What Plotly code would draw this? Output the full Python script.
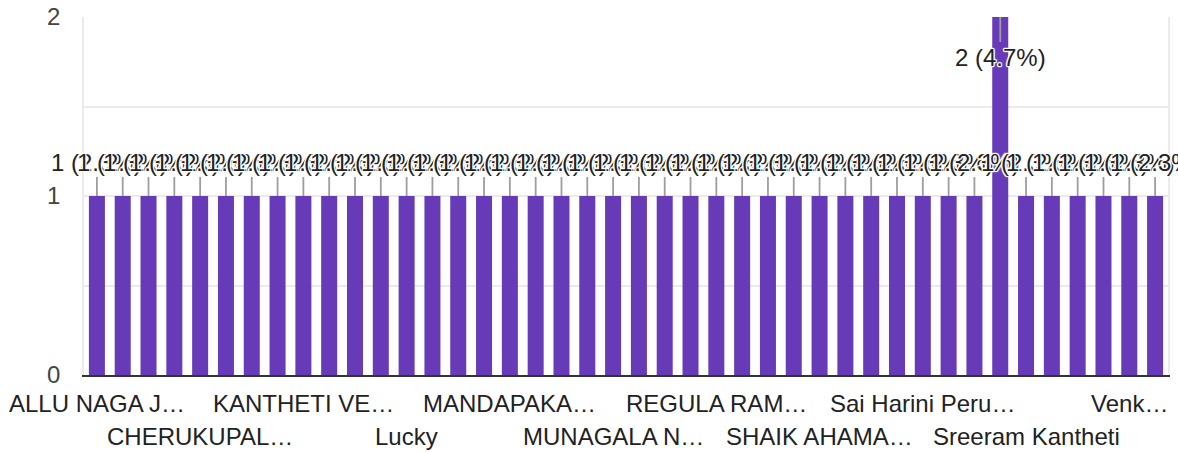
import plotly.graph_objects as go

# ---- data ----
names = [
    "ALLU NAGA J…", "Name 02", "Name 03", "Name 04",
    "CHERUKUPAL…", "Name 06", "Name 07", "Name 08",
    "KANTHETI VE…", "Name 10", "Name 11", "Name 12",
    "Lucky", "Name 14", "Name 15", "Name 16",
    "MANDAPAKA…", "Name 18", "Name 19", "Name 20",
    "MUNAGALA N…", "Name 22", "Name 23", "Name 24",
    "REGULA RAM…", "Name 26", "Name 27", "Name 28",
    "SHAIK AHAMA…", "Name 30", "Name 31", "Name 32",
    "Sai Harini Peru…", "Name 34", "Name 35", "Name 36",
    "Sreeram Kantheti", "Name 38", "Name 39", "Name 40",
    "Venk…", "Name 42",
]
counts = [1] * 35 + [2] + [1] * 6
shown_labels = ["ALLU NAGA J…", "CHERUKUPAL…", "KANTHETI VE…", "Lucky",
                "MANDAPAKA…", "MUNAGALA N…", "REGULA RAM…", "SHAIK AHAMA…",
                "Sai Harini Peru…", "Sreeram Kantheti", "Venk…"]
y_tick_vals = [0, 0.5, 1, 1.5, 2]
y_tick_text = ["0", "", "1", "", "2"]

total = sum(counts)
FONT = "Liberation Sans, Arial, sans-serif"
FS = 24
PURPLE = "#673ab7"
halo = ("white 1px 1px 1px, white -1px -1px 1px, white 1px -1px 1px, "
        "white -1px 1px 1px, white 0px 1px 1px, white 0px -1px 1px, "
        "white 1px 0px 1px, white -1px 0px 1px")

fig = go.Figure(go.Bar(
    x=names, y=counts, marker=dict(color=PURPLE, line=dict(width=0)),
    hoverinfo="skip",
))

annotations = []
for name, c in zip(names, counts):
    label = f"{c} ({c / total * 100:.1f}%)"
    ay = 40 if c >= 2 else -34
    annotations.append(dict(
        x=name, y=c, xref="x", yref="y", text=label,
        showarrow=True, arrowhead=0, arrowwidth=1.8, arrowcolor="#9e9e9e",
        ax=0, ay=ay, standoff=0,
        font=dict(family=FONT, size=FS, color="#222222", shadow=halo),
    ))

for k, lab in enumerate(shown_labels):
    annotations.append(dict(
        x=lab, y=0, xref="x", yref="paper", text=lab, showarrow=False,
        xanchor="center", yanchor="middle",
        yshift=-28 if k % 2 == 0 else -61,
        font=dict(family=FONT, size=FS, color="#222222"),
    ))

fig.update_layout(
    width=1178, height=452,
    margin=dict(l=84, r=10, t=17, b=77, autoexpand=False),
    paper_bgcolor="white", plot_bgcolor="white",
    bargap=0.38, showlegend=False,
    annotations=annotations,
    xaxis=dict(
        type="category", range=[-0.5, len(names) - 0.5], autorange=False,
        showticklabels=False, ticks="", automargin=False,
        showgrid=False, showline=True, linecolor="#333333", linewidth=2,
        zeroline=False,
    ),
    yaxis=dict(
        range=[0, 2], autorange=False, tickvals=y_tick_vals, ticktext=y_tick_text,
        showgrid=True, gridcolor="#ebebeb", gridwidth=1.5, automargin=False,
        showline=True, mirror=True, linecolor="#ebebeb", linewidth=1.5,
        zeroline=False, ticks="", ticklabelstandoff=17,
        tickfont=dict(family=FONT, size=FS, color="#444444"),
    ),
)

fig.write_html(
    "out.html",
    config={"displayModeBar": False},
    post_script="document.body.style.margin='0';document.body.style.overflow='hidden';",
)
